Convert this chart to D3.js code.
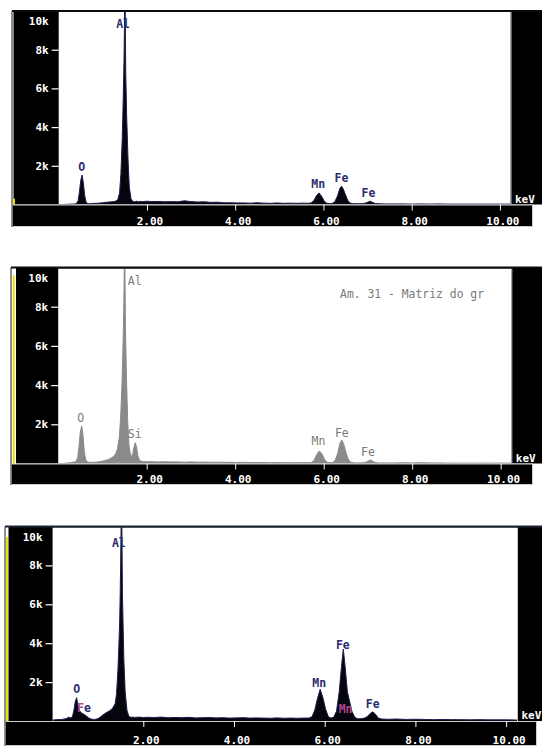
<!DOCTYPE html>
<html>
<head>
<meta charset="utf-8">
<script src="https://cdn.jsdelivr.net/npm/d3@7"></script>
<style>
  body { margin: 0; background: #fff; }
  svg { display: block; }
  text { font-family: "DejaVu Sans Mono", "Liberation Mono", monospace; }
</style>
</head>
<body>
<svg id="chart" width="542" height="746"></svg>
<script>
// Energy channels (keV) shared by the three EDS spectra
const energy = [
  0.00,0.10,0.20,0.30,0.36,0.40,0.44,0.47,0.50,0.53,
  0.56,0.59,0.62,0.66,0.70,0.75,0.80,0.85,0.90,0.95,
  1.00,1.05,1.10,1.15,1.20,1.25,1.30,1.34,1.38,1.41,
  1.44,1.46,1.48,1.49,1.50,1.51,1.52,1.54,1.57,1.60,
  1.64,1.68,1.71,1.74,1.77,1.80,1.84,1.90,2.00,2.10,
  2.25,2.40,2.55,2.70,2.85,3.00,3.15,3.30,3.45,3.60,
  3.75,3.90,4.05,4.20,4.35,4.50,4.65,4.80,4.95,5.10,
  5.25,5.40,5.55,5.65,5.72,5.78,5.84,5.90,5.96,6.02,
  6.08,6.14,6.20,6.26,6.32,6.37,6.41,6.45,6.50,6.55,
  6.60,6.66,6.72,6.80,6.88,6.95,7.00,7.06,7.12,7.18,
  7.26,7.40,7.60,7.80,8.00,8.20,8.40,8.60,8.80,9.00,
  9.20,9.40,9.60,9.80,10.00,10.24
];

// Counts (thousands) per channel, spectrum 1
const countsA = [
  0,0,0.01,0.02,0.03,0.05,0.2,0.65,1.25,1.52,
  1.1,0.45,0.13,0.05,0.04,0.05,0.06,0.06,0.07,0.08,
  0.09,0.11,0.12,0.13,0.14,0.15,0.18,0.26,0.6,1.6,
  3.4,5.2,7.4,9.2,12,9.5,6.8,4.6,2.4,0.9,
  0.3,0.16,0.14,0.15,0.17,0.14,0.16,0.15,0.17,0.15,
  0.16,0.14,0.15,0.14,0.19,0.15,0.13,0.14,0.11,0.12,
  0.09,0.09,0.08,0.08,0.07,0.09,0.07,0.06,0.08,0.06,
  0.07,0.06,0.07,0.06,0.08,0.2,0.45,0.6,0.42,0.17,
  0.06,0.05,0.06,0.14,0.45,0.82,0.95,0.8,0.5,0.22,
  0.08,0.05,0.04,0.04,0.05,0.07,0.12,0.17,0.1,0.05,
  0.04,0.03,0.03,0.03,0.02,0.03,0.02,0.03,0.02,0.02,
  0.02,0.02,0.02,0.02,0.02,0.02
];

// Spectrum 2 (Am. 31 - matrix)
const countsB = [
  0,0,0.02,0.05,0.08,0.1,0.3,0.85,1.6,1.92,
  1.45,0.6,0.2,0.08,0.06,0.06,0.06,0.07,0.08,0.1,
  0.12,0.15,0.18,0.22,0.28,0.36,0.5,0.75,1.3,2.3,
  3.9,5.6,7.6,9.3,12,9.6,7.0,4.6,2.2,0.9,
  0.35,0.45,0.8,1.06,0.85,0.4,0.15,0.1,0.09,0.09,
  0.08,0.09,0.08,0.08,0.07,0.08,0.07,0.07,0.06,0.07,
  0.06,0.06,0.05,0.06,0.05,0.05,0.05,0.04,0.05,0.04,
  0.04,0.04,0.05,0.04,0.05,0.15,0.45,0.64,0.5,0.2,
  0.06,0.04,0.05,0.15,0.55,1.05,1.2,1.0,0.6,0.25,
  0.08,0.04,0.03,0.03,0.04,0.06,0.12,0.18,0.1,0.04,
  0.03,0.03,0.03,0.04,0.03,0.04,0.03,0.03,0.02,0.02,
  0.02,0.02,0.02,0.02,0.02,0.02
];

// Spectrum 3
const countsC = [
  0.05,0.07,0.08,0.12,0.2,0.15,0.25,0.55,1.0,1.2,
  0.8,0.55,0.45,0.38,0.33,0.25,0.15,0.1,0.08,0.09,
  0.12,0.2,0.3,0.38,0.45,0.52,0.6,0.72,0.9,1.4,
  2.6,3.8,5.2,6.5,8.0,10.0,12,6.5,3.2,1.5,
  0.55,0.25,0.2,0.19,0.2,0.18,0.19,0.2,0.18,0.19,
  0.18,0.2,0.17,0.18,0.17,0.19,0.16,0.17,0.18,0.16,
  0.17,0.15,0.16,0.17,0.15,0.16,0.15,0.14,0.16,0.14,
  0.15,0.14,0.15,0.15,0.22,0.55,1.15,1.63,1.2,0.6,
  0.22,0.15,0.2,0.5,1.5,2.8,3.7,2.8,1.5,1.0,
  0.5,0.2,0.12,0.12,0.15,0.25,0.38,0.47,0.35,0.15,
  0.1,0.09,0.1,0.08,0.09,0.08,0.07,0.08,0.07,0.07,
  0.06,0.07,0.06,0.06,0.06,0.05
];

// Axis ticks
const yTicks = [2, 4, 6, 8, 10];
const yTickLabels = ["2k", "4k", "6k", "8k", "10k"];
const xTicks = [2, 4, 6, 8, 10];
const xTickLabels = ["2.00", "4.00", "6.00", "8.00", "10.00"];

// Peak markers: element, energy (keV), label level (k counts), per-letter tone (n = normal, p = pink)
const peaksA = [["O",0.52,1.75,"n"],["Al",1.46,9.13,"nn"],["Mn",5.88,0.84,"nn"],["Fe",6.41,1.18,"nn"],["Fe",7.02,0.40,"nn"]];
const peaksB = [["O",0.51,2.14,"n"],["Al",1.73,9.13,"nn"],["Si",1.73,1.29,"nn"],["Mn",5.88,0.95,"nn"],["Fe",6.41,1.37,"nn"],["Fe",7.0,0.38,"nn"]];
const peaksC = [["Al",1.46,8.96,"nn"],["O",0.53,1.42,"n"],["Fe",0.69,0.48,"pn"],["Mn",5.88,1.76,"nn"],["Fe",6.40,3.70,"nn"],["Mn",6.46,0.43,"pp"],["Fe",7.06,0.65,"nn"]];

// Sample caption on spectrum 2
const captionB = ["Am. 31 - Matriz do gr", 6.37, 8.45];

// Detector level bar, fraction of full height
const gaugeLevel = [0.03, 0.96, 0.945];

const eMax = 10.24, kMax = 10;

const layout = [
  { top: 11, base: 204.5, left: 58.7, right: 510.5, frameLeft: 12, blackLeft: 13.5, gaugeX: 14,
    bandBottom: 227, bandRight: 533, topLine: "#0a0a0a",
    counts: countsA, peaks: peaksA, fill: "#05050d", stroke: "#1c1c4c", ink: "#2c2c6e", weight: "bold" },
  { top: 267.5, base: 463.5, left: 58.2, right: 511.3, frameLeft: 11, blackLeft: 16, gaugeX: 13.8,
    bandBottom: 485, bandRight: 533, topLine: "#0a0a0a",
    counts: countsB, peaks: peaksB, fill: "#8a8a8a", stroke: "#8a8a8a", ink: "#7a7a7a", weight: "normal",
    caption: captionB },
  { top: 526.5, base: 721, left: 52.6, right: 517, frameLeft: 5, blackLeft: 8.5, gaugeX: 7,
    bandBottom: 746, bandRight: 537, topLine: "#1c2236",
    counts: countsC, peaks: peaksC, fill: "#05050d", stroke: "#1c1c4c", ink: "#2c2c6e", weight: "bold" }
];

const pink = "#b0468e";
const svg = d3.select("#chart");
const W = 542;

layout.forEach((p, i) => {
  const g = svg.append("g");
  const x = d3.scaleLinear().domain([0, eMax]).range([p.left, p.right]);
  const y = d3.scaleLinear().domain([0, kMax]).range([p.base, p.top]);
  const data = energy.map((e, j) => ({ e, c: p.counts[j] }));

  // black frame body (left scale strip + right strip)
  g.append("rect").attr("x", p.blackLeft).attr("y", p.top)
    .attr("width", W - p.blackLeft).attr("height", p.base - p.top).attr("fill", "#000");

  // plot area
  g.append("rect").attr("x", p.left).attr("y", p.top + 1)
    .attr("width", p.right - p.left).attr("height", p.base - p.top - 1).attr("fill", "#fff");

  const clipId = "clip" + i;
  g.append("clipPath").attr("id", clipId).append("rect")
    .attr("x", p.left).attr("y", p.top + 1)
    .attr("width", p.right - p.left).attr("height", p.base - p.top - 1);

  const spec = g.append("g").attr("clip-path", `url(#${clipId})`);
  spec.append("path").datum(data)
    .attr("d", d3.area().x(d => x(d.e)).y0(y(0)).y1(d => y(d.c)))
    .attr("fill", p.fill);
  spec.append("path").datum(data)
    .attr("d", d3.line().x(d => x(d.e)).y(d => y(d.c)))
    .attr("fill", "none").attr("stroke", p.stroke).attr("stroke-width", 1);

  // plot right border
  g.append("line").attr("x1", p.right + 0.5).attr("x2", p.right + 0.5)
    .attr("y1", p.top + 1).attr("y2", p.base).attr("stroke", "#c8c8c8").attr("stroke-width", 1);

  // energy band
  g.append("rect").attr("x", p.frameLeft + 0.5).attr("y", p.base + 0.5)
    .attr("width", p.bandRight - p.frameLeft - 1).attr("height", p.bandBottom - p.base - 1)
    .attr("fill", "#000").attr("stroke", "#cfcfcf").attr("stroke-width", 1);

  // top frame line and left frame line
  g.append("line").attr("x1", p.frameLeft).attr("x2", W).attr("y1", p.top).attr("y2", p.top)
    .attr("stroke", p.topLine).attr("stroke-width", 2);
  g.append("line").attr("x1", p.frameLeft).attr("x2", p.frameLeft).attr("y1", p.top).attr("y2", p.bandBottom)
    .attr("stroke", "#202020").attr("stroke-width", 1);

  // level bar
  const gv = gaugeLevel[i];
  g.append("line").attr("x1", p.gaugeX).attr("x2", p.gaugeX)
    .attr("y1", p.base).attr("y2", p.base - gv * (p.base - p.top))
    .attr("stroke", "#ece400").attr("stroke-width", 2);

  // y axis
  const ya = g.append("g").attr("transform", `translate(${p.left},0)`)
    .call(d3.axisLeft(y).tickValues(yTicks).tickSize(7).tickPadding(3)
      .tickFormat((d, k) => yTickLabels[k]));
  ya.select(".domain").remove();
  ya.selectAll(".tick line").attr("stroke", "#fff").attr("stroke-width", 1.2);
  ya.selectAll(".tick text").attr("fill", "#fff").attr("font-size", 11).attr("font-weight", "bold")
    .style("font-family", '"DejaVu Sans Mono", monospace');
  ya.selectAll(".tick").filter(d => d === kMax).each(function () {
    d3.select(this).select("line").remove();
    d3.select(this).select("text").attr("y", 10);
  });

  // x axis
  const pad = (p.bandBottom - 2.5 - p.base) - 6 - 7.8;
  const xa = g.append("g").attr("transform", `translate(0,${p.base})`)
    .call(d3.axisBottom(x).tickValues(xTicks).tickSize(6).tickPadding(pad)
      .tickFormat((d, k) => xTickLabels[k]));
  xa.select(".domain").remove();
  xa.selectAll(".tick line").attr("stroke", "#fff").attr("stroke-width", 1);
  xa.selectAll(".tick text").attr("fill", "#fff").attr("font-size", 11).attr("font-weight", "bold")
    .attr("dx", 2.5).style("font-family", '"DejaVu Sans Mono", monospace');

  // unit
  g.append("text").attr("x", p.right + 4.5).attr("y", p.base - 2)
    .attr("fill", "#fff").attr("font-size", 11).attr("font-weight", "bold").text("keV");

  // peak labels
  p.peaks.forEach(([name, e, level, tone]) => {
    const t = g.append("text").attr("x", x(e)).attr("y", y(level))
      .attr("text-anchor", "middle").attr("font-size", 11.5).attr("font-weight", p.weight);
    name.split("").forEach((ch, k) => {
      t.append("tspan").attr("fill", (tone[k] === "p") ? pink : p.ink).text(ch);
    });
  });

  if (p.caption) {
    const [txt, e, level] = p.caption;
    g.append("text").attr("x", x(e)).attr("y", y(level))
      .attr("fill", p.ink).attr("font-size", 11.4).attr("xml:space", "preserve")
      .style("white-space", "pre").text(txt);
  }
});
</script>
</body>
</html>
